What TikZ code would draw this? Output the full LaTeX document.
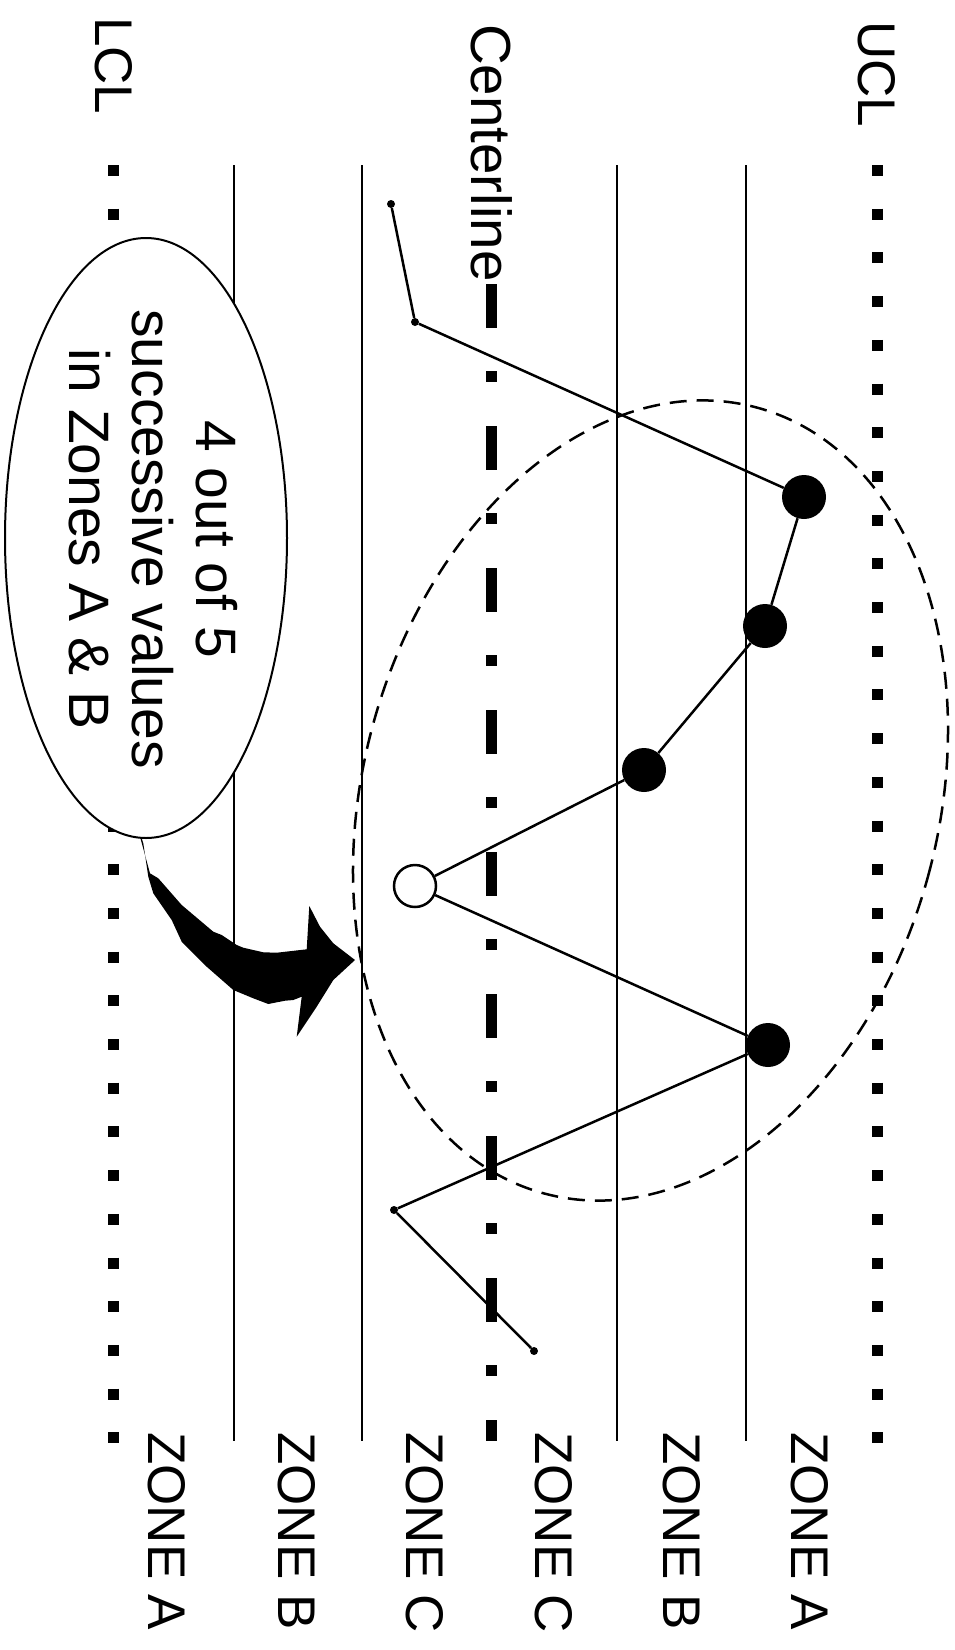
\documentclass[tikz,border=0pt]{standalone}
\usepackage{fontspec}
\setmainfont{Liberation Sans}
\usetikzlibrary{shapes.geometric}
\begin{document}
\begin{tikzpicture}[x=1pt,y=-1pt,
  zoneline/.style={line width=2pt},
  limitline/.style={line width=11pt, dash pattern=on 11pt off 32.7pt},
  centerln/.style={line width=10.5pt, dash pattern=on 44pt off 43pt on 11pt off 44pt},
  lbl/.style={rotate=-90, anchor=west, inner sep=0pt, font=\fontsize{53}{60}\selectfont},
  bigdot/.style={circle, fill=black, minimum size=44pt, inner sep=0pt},
  opendot/.style={circle, draw=black, fill=white, line width=2.5pt, minimum size=42pt, inner sep=0pt},
  smalldot/.style={circle, fill=black, minimum size=8pt, inner sep=0pt},
  trend/.style={line width=2.5pt},
  groupring/.style={line width=2.5pt, dash pattern=on 17pt off 10pt},
]
\useasboundingbox (0,0) rectangle (955,1650);
% zone boundaries
\draw[zoneline] (233.5,165) -- (233.5,1441);
\draw[zoneline] (362,165) -- (362,1441);
\draw[zoneline] (617,165) -- (617,1441);
\draw[zoneline] (746,165) -- (746,1441);
% control limits
\draw[limitline] (877,165) -- (877,1444);
\draw[limitline] (113.5,165) -- (113.5,1444);
% centerline
\draw[centerln] (491.5,284) -- (491.5,1441);
% dashed grouping ellipse
\draw[groupring, rotate around={-15.2:(650.5,800.5)}] (650.5,800.5) ellipse [x radius=287.7pt, y radius=407.1pt];
% data points
\node[smalldot] (p1) at (391,204) {};
\node[smalldot] (p2) at (415,322) {};
\node[bigdot] (p3) at (804,497) {};
\node[bigdot] (p4) at (765,626) {};
\node[bigdot] (p5) at (644,770) {};
\node[opendot] (p6) at (415,886) {};
\node[bigdot] (p7) at (768,1045) {};
\node[smalldot] (p8) at (394,1210) {};
\node[smalldot] (p9) at (534,1351) {};
\draw[trend] (p1) -- (p2) -- (p3) -- (p4) -- (p5) -- (p6) -- (p7) -- (p8) -- (p9);
% big curved arrow
\fill (140,836.7) -- (150,873.3) -- (158.3,878.3) -- (181.7,905) -- (213.3,931.7) -- (221.7,935)
  -- (236.7,945) -- (243.3,947.7) -- (263.3,952.3) -- (276.7,952.7) -- (306.7,949.3)
  -- (309.3,906) -- (320,926.7) -- (333.3,943.3) -- (355,960)
  -- (333.3,980) -- (316.7,1006.7) -- (296.7,1036.7)
  -- (301.7,996.7) -- (293.3,1000) -- (285,1000.7) -- (268.3,1004) -- (253.3,998.3)
  -- (233.3,990) -- (206.7,966.7) -- (181.7,941.7) -- (171.7,920) -- (153.3,893.3)
  -- (148.3,876.7) -- (143.3,843.3) -- (141.7,838.3) -- cycle;
% callout
\node[ellipse, draw, fill=white, line width=2pt, minimum width=282pt, minimum height=600pt, inner sep=0pt] (callout) at (146,538) {};
\node[rotate=-90, inner sep=0pt, align=center, font=\fontsize{57}{63.5}\selectfont] (callouttext) at (153,539) {4 out of 5\\successive values\\in Zones A \& B};
% labels
\node[lbl] (ucl) at (877,21) {UCL};
\node[lbl, font=\fontsize{56.5}{60}\selectfont] (cl) at (491.5,24) {Centerline};
\node[lbl] (lcl) at (113.5,17) {LCL};
\node[lbl] (za1) at (167,1432) {ZONE A};
\node[lbl] (zb1) at (297,1432) {ZONE B};
\node[lbl] (zc1) at (425,1432) {ZONE C};
\node[lbl] (zc2) at (554,1432) {ZONE C};
\node[lbl] (zb2) at (682,1432) {ZONE B};
\node[lbl] (za2) at (810,1432) {ZONE A};
\end{tikzpicture}
\end{document}
